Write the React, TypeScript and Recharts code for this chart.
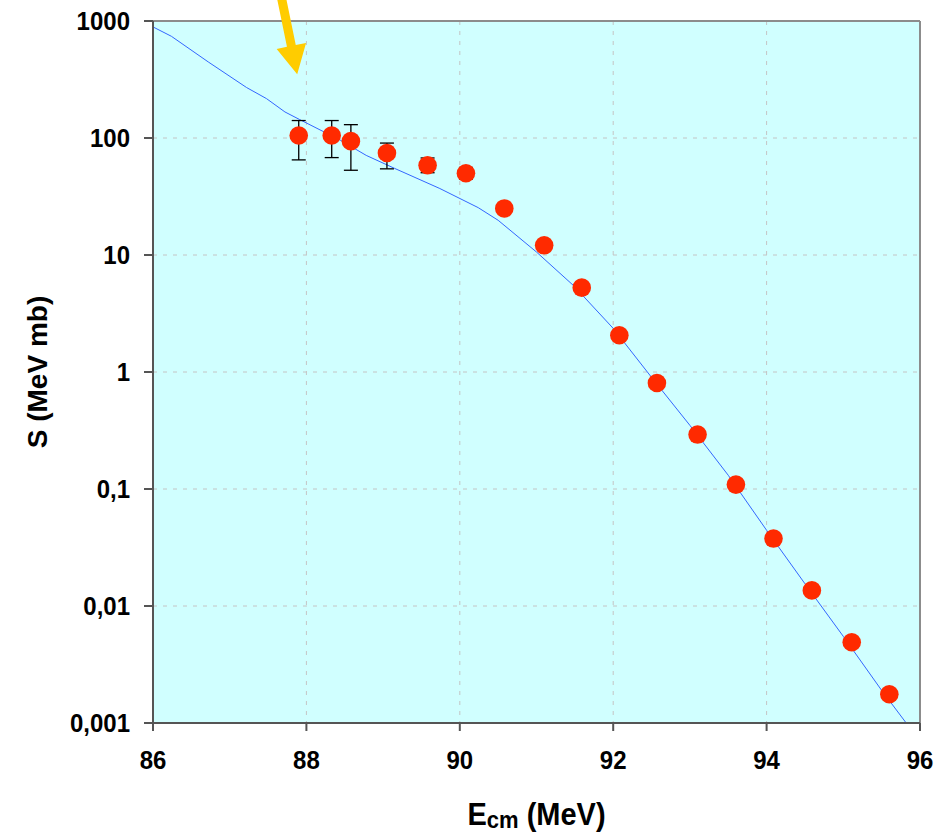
import {
  CartesianGrid,
  ComposedChart,
  ErrorBar,
  Line,
  ReferenceDot,
  ReferenceLine,
  Scatter,
  XAxis,
  YAxis,
} from "recharts";

// model curve
const CURVE_E = [86, 86.24, 86.72, 87.22, 87.48, 87.72, 87.91, 88.44, 88.78, 89.15, 89.74, 90.24, 90.5, 91.0, 91.48, 92.0, 92.5, 93.0, 93.5, 94.0, 94.5, 95.0, 95.5, 95.82];
const CURVE_S = [890, 740, 447, 270, 217, 167, 144, 96, 71, 55, 37, 25.4, 19.8, 10.6, 5.5, 2.36, 0.9, 0.35, 0.131, 0.0444, 0.0155, 0.0055, 0.0019, 0.001];

// measured points
const DATA_E = [87.9, 88.33, 88.58, 89.05, 89.58, 90.08, 90.58, 91.1, 91.59, 92.08, 92.57, 93.1, 93.6, 94.09, 94.59, 95.11, 95.6];
const DATA_S = [105, 105, 94, 74.5, 58.5, 50, 25, 12.1, 5.26, 2.06, 0.805, 0.292, 0.109, 0.0377, 0.0136, 0.0049, 0.00176];
const ERR_LO = [40, 37, 41, 20, 8, 5.5, 0, 0, 0, 0, 0, 0, 0, 0, 0, 0, 0];
const ERR_HI = [36, 36, 36, 16, 9, 6, 0, 0, 0, 0, 0, 0, 0, 0, 0, 0, 0];

const X_TICKS = [86, 88, 90, 92, 94, 96];
const Y_TICKS = [0.001, 0.01, 0.1, 1, 10, 100, 1000];

const curve = CURVE_E.map((e, i) => ({ e, s: CURVE_S[i] }));
const points = DATA_E.map((e, i) => ({ e, s: DATA_S[i], err: [ERR_LO[i], ERR_HI[i]] }));

const FONT = "'Liberation Sans', Arial, sans-serif";
const fmtY = (v: number) => String(v).replace(".", ",");

function YTick({ x, y, payload }: any) {
  return (
    <g transform={`translate(${x},${y}) scale(1,1.1)`}>
      <text x={0} y={8} textAnchor="end" fontSize={24} fontWeight="bold" fontFamily={FONT} fill="#000">
        {fmtY(payload.value)}
      </text>
    </g>
  );
}

function XTick({ x, y, payload }: any) {
  return (
    <g transform={`translate(${x},${y}) scale(1,1.1)`}>
      <text x={0} y={17} textAnchor="middle" fontSize={24} fontWeight="bold" fontFamily={FONT} fill="#000">
        {payload.value}
      </text>
    </g>
  );
}

function Dot({ cx, cy }: any) {
  return <circle cx={cx} cy={cy} r={9.3} fill="#FF2A00" />;
}

function Arrow({ cx, cy }: any) {
  return (
    <g transform={`translate(${cx},${cy}) rotate(-11.6)`}>
      <polygon points="0,0 -15,-29 -4.5,-29 -4.5,-110 4.5,-110 4.5,-29 15,-29" fill="#FFCC00" />
    </g>
  );
}

export default function App() {
  return (
    <div style={{ position: "fixed", left: 0, top: 0, background: "#fff" }}>
      <ComposedChart width={949} height={835} margin={{ top: 21, right: 29, bottom: 0, left: 0 }}>
        <CartesianGrid
          fill="#D0FFFF"
          stroke="#C4C4C4"
          strokeDasharray="4 6"
          verticalValues={[88, 90, 92, 94]}
          horizontalValues={[0.01, 0.1, 1, 10, 100]}
        />
        <XAxis
          type="number"
          dataKey="e"
          domain={[86, 96]}
          ticks={X_TICKS}
          allowDataOverflow
          height={112}
          tickSize={8}
          tickMargin={19}
          stroke="#555"
          strokeWidth={2}
          tick={<XTick />}
          label={({ viewBox }: any) => (
            <g transform={`translate(${viewBox.x + viewBox.width / 2},${viewBox.y + 102}) scale(1,1.1)`}>
              <text x={0} y={0} textAnchor="middle" fontSize={29} fontWeight="bold" fontFamily={FONT} fill="#000">
                E<tspan fontSize={22} dy={3}>cm</tspan>
                <tspan dy={-3}> (MeV)</tspan>
              </text>
            </g>
          )}
        />
        <YAxis
          type="number"
          scale="log"
          domain={[0.001, 1000]}
          ticks={Y_TICKS}
          allowDataOverflow
          width={153}
          tickSize={9}
          tickMargin={14}
          stroke="#555"
          strokeWidth={2}
          tick={<YTick />}
          label={({ viewBox }: any) => (
            <text
              x={0}
              y={0}
              transform={`translate(${viewBox.x + 47},${viewBox.y + viewBox.height / 2}) rotate(-90)`}
              textAnchor="middle"
              fontSize={28}
              fontWeight="bold"
              fontFamily={FONT}
              fill="#000"
            >
              S (MeV mb)
            </text>
          )}
        />
        <ReferenceLine y={1000} stroke="#8C8C8C" strokeWidth={2} />
        <ReferenceLine x={96} stroke="#8C8C8C" strokeWidth={2} />
        <Line
          data={curve}
          dataKey="s"
          type="linear"
          stroke="#3366FF"
          strokeWidth={1}
          dot={false}
          isAnimationActive={false}
        />
        <Scatter data={points} dataKey="s" shape={<Dot />} isAnimationActive={false}>
          <ErrorBar dataKey="err" direction="y" width={7} stroke="#000" strokeWidth={1.3} />
        </Scatter>
        <ReferenceDot x={87.88} y={350} ifOverflow="visible" shape={<Arrow />} />
      </ComposedChart>
    </div>
  );
}
